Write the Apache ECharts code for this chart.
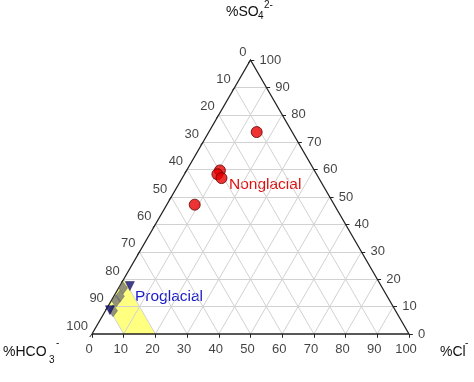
<!DOCTYPE html>
<html><head><meta charset="utf-8">
<script src="https://cdn.jsdelivr.net/npm/echarts@6/dist/echarts.min.js"></script>
<style>html,body{margin:0;padding:0;background:#fff}#c{width:474px;height:382px}</style>
</head><body><div id="c"></div>
<script>
// ---- data ----
const tickValues = [0, 10, 20, 30, 40, 50, 60, 70, 80, 90, 100];
const clTickLabels = ['0','10','20','30','40','50','60','70','80','90','100'];      // bottom axis (%Cl-)
const hco3TickLabels = ['0','10','20','30','40','50','60','70','80','90','100'];    // left side (%HCO3-)
const so4TickLabels = ['0','10','20','30','40','50','60','70','80','90','100'];     // right side (%SO4 2-)

// Nonglacial samples (percent)
const nonglacialSO4 = [73.7, 59.7, 58.3, 56.9, 47.2];
const nonglacialCl = [15.1, 10.5, 10.4, 12.4, 8.8];
const nonglacialHCO3 = [11.2, 29.8, 31.3, 30.7, 44.0];

// Proglacial samples: navy triangles
const proTriSO4 = [17.5, 8.7];
const proTriCl = [3.2, 1.3];
const proTriHCO3 = [79.3, 90.0];

// Proglacial samples: grey diamonds
const proDiaSO4 = [16.8, 13.8, 12.0, 8.5];
const proDiaCl = [1.4, 1.9, 1.6, 2.4];
const proDiaHCO3 = [81.8, 84.3, 86.4, 89.1];

// Proglacial field (yellow), ternary vertices [SO4, Cl]
const fieldSO4 = [20, 0, 0, 10];
const fieldCl = [0, 20, 10, 0];

// ---- helpers ----
const H = Math.sqrt(3) / 2 * 100;
function tern(so4, cl) { return [cl + so4 / 2, so4 * Math.sqrt(3) / 2]; }
function pts(so4, cl) { return so4.map((s, i) => tern(s, cl[i])); }

// grid lines
const gridLines = [];
for (let v = 10; v < 100; v += 10) {
  gridLines.push({ coords: [tern(v, 0), tern(v, 100 - v)] });          // const SO4
  gridLines.push({ coords: [tern(0, v), tern(100 - v, v)] });          // const Cl
  gridLines.push({ coords: [tern(100 - v, 0), tern(0, 100 - v)] });    // const HCO3
}
const border = [{ coords: [tern(0, 0), tern(0, 100), tern(100, 0), tern(0, 0)] }];
const tickLen = 1.2;
const tickLines = [];
tickValues.forEach(v => {
  const b = tern(0, v); tickLines.push({ coords: [b, [b[0], b[1] - tickLen]] });
  const r = tern(v, 100 - v); tickLines.push({ coords: [r, [r[0] + tickLen, r[1]]] });
  const l = tern(100 - v, 0); tickLines.push({ coords: [l, [l[0] - tickLen * 0.6, l[1] - tickLen * 0.8]] });
});

const font = "'Liberation Sans', Arial, sans-serif";
const chart = echarts.init(document.getElementById('c'));
const labelBase = { show: true, fontFamily: font, fontSize: 13, color: '#111' };

chart.setOption({
  animation: false,
  backgroundColor: '#fff',
  grid: { left: 92, right: 65, top: 60, bottom: 48 },
  xAxis: { type: 'value', min: 0, max: 100, show: false },
  yAxis: { type: 'value', min: 0, max: H, show: false },
  graphic: [
    { type: 'text', left: 3, top: 345, style: { text: '%HCO', font: '14px ' + font, fill: '#111' } },
    { type: 'text', left: 49, top: 355, style: { text: '3', font: '10px ' + font, fill: '#111' } },
    { type: 'text', left: 56, top: 338, style: { text: '-', font: '10px ' + font, fill: '#111' } },
    { type: 'text', left: 440, top: 345, style: { text: '%Cl', font: '14px ' + font, fill: '#111' } },
    { type: 'text', left: 465, top: 338, style: { text: '-', font: '10px ' + font, fill: '#111' } },
    { type: 'text', left: 226, top: 5, style: { text: '%SO', font: '14px ' + font, fill: '#111' } },
    { type: 'text', left: 258, top: 11, style: { text: '4', font: '10px ' + font, fill: '#111' } },
    { type: 'text', left: 264, top: 0, style: { text: '2-', font: '10px ' + font, fill: '#111' } },
    { type: 'text', left: 229, top: 177, style: { text: 'Nonglacial', font: '15.5px ' + font, fill: '#e01010' } },
    { type: 'text', left: 135, top: 289, style: { text: 'Proglacial', font: '15.5px ' + font, fill: '#1a1ac8' } }
  ],
  series: [
    {
      type: 'custom', silent: true, z: 1,
      renderItem: function (params, api) {
        const p = fieldSO4.map((s, i) => api.coord(tern(s, fieldCl[i])));
        return { type: 'polygon', shape: { points: p }, style: { fill: 'rgb(255,255,128)', stroke: 'none' } };
      },
      data: [0]
    },
    { type: 'lines', coordinateSystem: 'cartesian2d', polyline: false, silent: true, z: 2, clip: false,
      lineStyle: { color: '#d2d2d2', width: 1, opacity: 1 }, data: gridLines },
    { type: 'lines', coordinateSystem: 'cartesian2d', polyline: true, silent: true, z: 3, clip: false,
      lineStyle: { color: '#222', width: 1.3, opacity: 1 }, data: border },
    { type: 'lines', coordinateSystem: 'cartesian2d', polyline: false, silent: true, z: 3, clip: false,
      lineStyle: { color: '#222', width: 1, opacity: 1 }, data: tickLines },
    { type: 'scatter', symbolSize: 0, silent: true, clip: false,
      data: tickValues.map((v, i) => ({ value: tern(0, v), name: clTickLabels[i] })),
      label: Object.assign({}, labelBase, { position: 'bottom', distance: 9, offset: [-3, 0], formatter: '{b}' }) },
    { type: 'scatter', symbolSize: 0, silent: true, clip: false,
      data: tickValues.map((v, i) => ({ value: tern(100 - v, 0), name: hco3TickLabels[i] })),
      label: Object.assign({}, labelBase, { position: 'left', distance: 4, offset: [0, -8], formatter: '{b}' }) },
    { type: 'scatter', symbolSize: 0, silent: true, clip: false,
      data: tickValues.map((v, i) => ({ value: tern(v, 100 - v), name: so4TickLabels[i] })),
      label: Object.assign({}, labelBase, { position: 'right', distance: 9, formatter: '{b}' }) },
    { type: 'scatter', name: 'Nonglacial', z: 5, symbol: 'circle', symbolSize: 11,
      itemStyle: { color: '#e80000', borderColor: '#600000', borderWidth: 1 },
      data: pts(nonglacialSO4, nonglacialCl) },
    { type: 'scatter', name: 'Proglacial diamonds', z: 5, symbol: 'diamond', symbolSize: [9, 12],
      itemStyle: { color: '#777777', borderColor: '#555555', borderWidth: 0.5 },
      data: pts(proDiaSO4, proDiaCl) },
    { type: 'scatter', name: 'Proglacial triangles', z: 6, symbol: 'triangle', symbolRotate: 180, symbolSize: 9,
      itemStyle: { color: '#10106e', borderColor: '#000040', borderWidth: 0.5 },
      data: pts(proTriSO4, proTriCl) }
  ]
});
</script></body></html>
